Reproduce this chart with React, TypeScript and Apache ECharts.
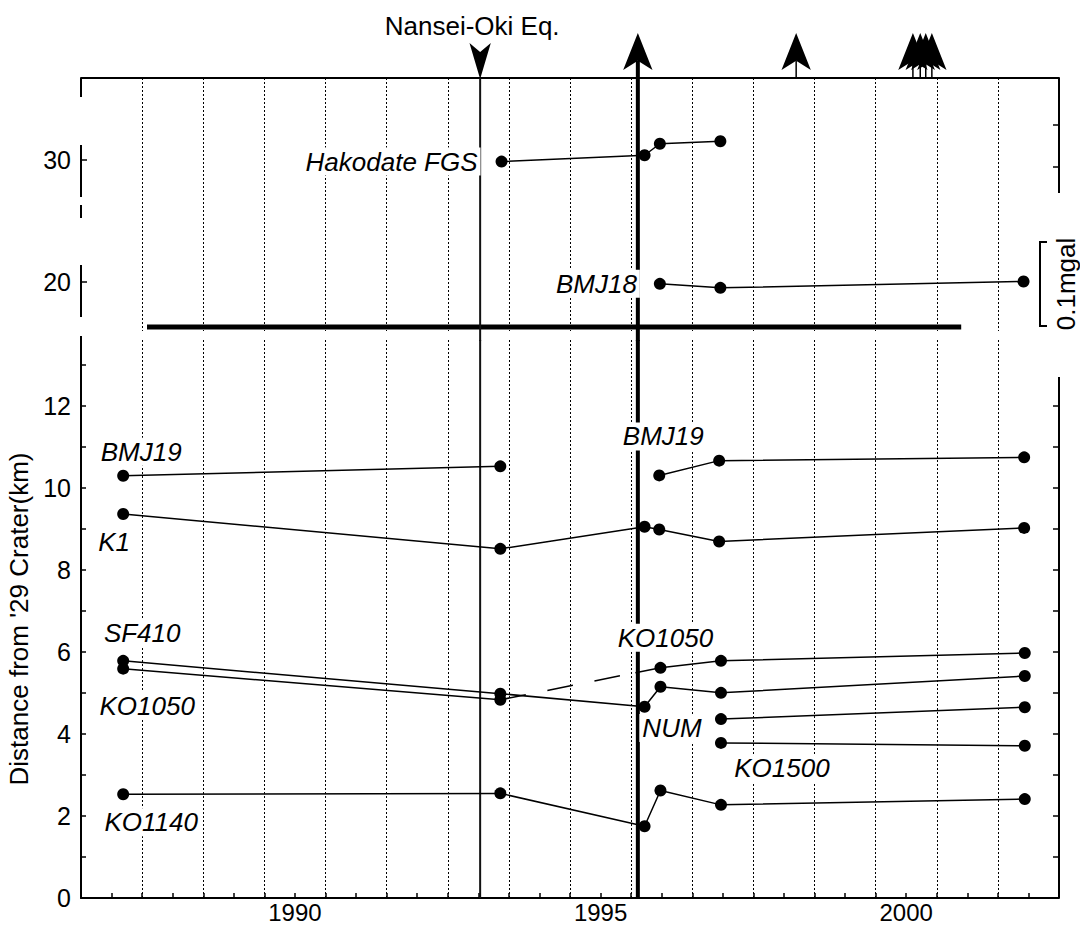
import React, { useEffect, useRef } from 'react';
import * as echarts from 'echarts';

// ---------- axes ----------
const X_MIN = 1986.5;
const X_MAX = 2002.5;
const X_LABELS = [1990, 1995, 2000];
const UPPER_MIN = 16;
const UPPER_MAX = 36.7;
const UPPER_LABELS = [20, 30];
const UPPER_RIGHT_TICKS = [29.4, 32.9];
const LOWER_MIN = 0;
const LOWER_MAX = 13.6;
const LOWER_TICKS = [0, 1, 2, 3, 4, 5, 6, 7, 8, 9, 10, 11, 12, 13];
const LOWER_LABELS = [0, 2, 4, 6, 8, 10, 12];
const LOWER_RIGHT_TICKS = [0, 1, 2, 3, 4, 5, 6, 7, 8, 9, 10, 11, 12];

// ---------- upper panel (gravity) ----------
const HAKODATE = [[1993.38, 29.86], [1995.72, 30.38], [1995.97, 31.32], [1996.96, 31.53]];
const BMJ18 = [[1995.97, 19.86], [1996.96, 19.53], [2001.92, 20.05]];
const PERIOD_BAR = [[1987.58, 16.33], [2000.9, 16.33]];

// ---------- lower panel (distance) ----------
const BMJ19_A = [[1987.19, 10.29], [1993.36, 10.52]];
const BMJ19_B = [[1995.96, 10.3], [1996.94, 10.66], [2001.93, 10.74]];
const K1 = [[1987.19, 9.36], [1993.36, 8.51], [1995.72, 9.05], [1995.96, 8.98], [1996.94, 8.69], [2001.93, 9.02]];
const SF410 = [[1987.19, 5.78], [1993.36, 4.98], [1995.72, 4.66], [1995.98, 5.15], [1996.97, 5.0], [2001.94, 5.41]];
const KO1050_A = [[1987.19, 5.59], [1993.36, 4.83]];
const KO1050_GAP_END = [1995.57, 5.49];
const KO1050_B = [[1995.98, 5.61], [1996.97, 5.78], [2001.94, 5.97]];
const NUM = [[1996.97, 4.36], [2001.94, 4.65]];
const KO1500 = [[1996.97, 3.78], [2001.94, 3.71]];
const KO1140 = [[1987.19, 2.53], [1993.36, 2.55], [1995.72, 1.75], [1995.98, 2.62], [1996.97, 2.27], [2001.94, 2.41]];

// ---------- events ----------
const NANSEI_OKI = 1993.03;
const MAIN_EVENT = 1995.61;
const SMALL_EVENTS = [1998.2, 2000.11, 2000.23, 2000.32, 2000.42];

// ---------- layout ----------
const W = 1080;
const H = 927;
const GL = 81;
const GR = 1059;
const UP_TOP = 78;
const UP_BOT = 331;
const LO_TOP = 340;
const LO_BOT = 898;
const FONT = "'Liberation Sans', Arial, Helvetica, sans-serif";

export default function App() {
  const ref = useRef<HTMLDivElement>(null);

  useEffect(() => {
    document.body.style.margin = '0';
    if (!ref.current) return;
    const chart = echarts.init(ref.current, undefined, { renderer: 'svg' });

    const upperPxPerUnit = (UP_BOT - UP_TOP) / (UPPER_MAX - UPPER_MIN);
    const bridge = UPPER_MIN - (LO_TOP - UP_BOT + 1) / upperPxPerUnit;
    // value lying `px` pixels above the top border of the upper panel
    const above = (px: number) => UPPER_MAX + px / upperPxPerUnit;

    const dotted = { show: true, lineStyle: { color: '#000', width: 1, type: [2, 2] as any }, showMinLine: false, showMaxLine: false };
    const axisText = { color: '#000', fontSize: 25, fontFamily: FONT };
    const lineCommon = {
      type: 'line',
      symbol: 'circle',
      symbolSize: 12,
      itemStyle: { color: '#000', opacity: 1 },
      lineStyle: { color: '#000', width: 1.5 },
      z: 4,
      silent: true,
    };
    const up = (data: any[], extra: any = {}) => ({ ...lineCommon, xAxisIndex: 0, yAxisIndex: 0, data, ...extra });
    const lo = (data: any[], extra: any = {}) => ({ ...lineCommon, xAxisIndex: 1, yAxisIndex: 2, data, ...extra });

    const lab = (pt: number[], text: string, offset: number[], align = 'center', italic = true, bg = true) => ({
      value: pt,
      label: {
        show: true,
        formatter: text,
        position: 'inside',
        offset,
        align,
        verticalAlign: 'middle',
        fontSize: 26,
        fontStyle: italic ? 'italic' : 'normal',
        fontFamily: FONT,
        color: '#000',
        opacity: 1,
        textBorderWidth: 0,
        backgroundColor: bg ? '#fff' : 'transparent',
        padding: [1, 3],
      },
    });
    const labelSeries = (xi: number, yi: number, data: any[]) => ({
      type: 'scatter',
      xAxisIndex: xi,
      yAxisIndex: yi,
      symbol: 'circle',
      symbolSize: 0,
      itemStyle: { color: '#000', opacity: 1 },
      clip: false,
      z: 6,
      silent: true,
      data,
    });
    const marker = (data: any[], symbol: string, size: number[], rotate = 0) => ({
      type: 'scatter', xAxisIndex: 0, yAxisIndex: 0, clip: false, silent: true, z: 3,
      data, symbol, symbolSize: size, symbolRotate: rotate, itemStyle: { color: '#000', opacity: 1 },
    });

    const option: any = {
      animation: false,
      backgroundColor: '#fff',
      grid: [
        { left: GL, right: W - GR, top: UP_TOP, height: UP_BOT - UP_TOP, containLabel: false, outerBoundsMode: 'none' },
        { left: GL, right: W - GR, top: LO_TOP, height: LO_BOT - LO_TOP, containLabel: false, outerBoundsMode: 'none' },
      ],
      xAxis: [
        {
          type: 'value', gridIndex: 0, position: 'top', min: X_MIN, max: X_MAX, interval: 1,
          axisLine: { show: true, lineStyle: { color: '#000', width: 2 } },
          axisTick: { show: false }, axisLabel: { show: false }, splitLine: dotted,
        },
        {
          type: 'value', gridIndex: 1, position: 'bottom', min: X_MIN, max: X_MAX, interval: 0.5,
          axisLine: { show: true, onZero: false, lineStyle: { color: '#000', width: 2 } },
          axisTick: { show: true, inside: true, length: 5, lineStyle: { color: '#000', width: 1.5 } },
          axisLabel: { show: true, customValues: X_LABELS, margin: 2, formatter: (v: number) => String(v), ...axisText, fontSize: 24 },
          splitLine: { show: false },
        },
        {
          type: 'value', gridIndex: 1, position: 'top', min: X_MIN, max: X_MAX, interval: 1,
          axisLine: { show: false }, axisTick: { show: false }, axisLabel: { show: false }, splitLine: dotted,
        },
      ],
      yAxis: [
        {
          type: 'value', gridIndex: 0, position: 'left', min: UPPER_MIN, max: UPPER_MAX,
          axisLine: { show: false },
          axisTick: { show: true, inside: true, length: 6, customValues: UPPER_LABELS, lineStyle: { color: '#000', width: 1.5 } },
          axisLabel: { show: true, customValues: UPPER_LABELS, margin: 10, formatter: (v: number) => String(v), ...axisText },
          splitLine: { show: false },
        },
        {
          type: 'value', gridIndex: 0, position: 'right', min: UPPER_MIN, max: UPPER_MAX,
          axisLine: { show: false },
          axisTick: { show: true, inside: true, length: 6, customValues: UPPER_RIGHT_TICKS, lineStyle: { color: '#000', width: 1.5 } },
          axisLabel: { show: false }, splitLine: { show: false },
        },
        {
          type: 'value', gridIndex: 1, position: 'left', min: LOWER_MIN, max: LOWER_MAX,
          name: "Distance from '29 Crater(km)", nameLocation: 'middle', nameRotate: 90, nameGap: 44,
          nameTextStyle: { color: '#000', fontSize: 26, fontFamily: FONT },
          axisLine: { show: true, onZero: false, lineStyle: { color: '#000', width: 2 } },
          axisTick: { show: true, inside: true, length: 5, customValues: LOWER_TICKS, lineStyle: { color: '#000', width: 1.5 } },
          axisLabel: { show: true, customValues: LOWER_LABELS, margin: 10, formatter: (v: number) => String(v), ...axisText },
          splitLine: { show: false },
        },
        {
          type: 'value', gridIndex: 1, position: 'right', min: LOWER_MIN, max: LOWER_MAX,
          axisLine: { show: false },
          axisTick: { show: true, inside: true, length: 6, customValues: LOWER_RIGHT_TICKS, lineStyle: { color: '#000', width: 1.5 } },
          axisLabel: { show: false }, splitLine: { show: false },
        },
      ],
      series: [
        // upper panel decorations
        { type: 'line', xAxisIndex: 0, yAxisIndex: 0, data: PERIOD_BAR, symbol: 'none', lineStyle: { color: '#000', width: 5 }, z: 2, silent: true },
        { type: 'line', xAxisIndex: 0, yAxisIndex: 0, data: [[NANSEI_OKI, UPPER_MAX], [NANSEI_OKI, bridge]], symbol: 'none', clip: false, lineStyle: { color: '#111', width: 2 }, z: 2, silent: true },
        { type: 'line', xAxisIndex: 0, yAxisIndex: 0, data: [[MAIN_EVENT, above(17)], [MAIN_EVENT, bridge]], symbol: 'none', clip: false, lineStyle: { color: '#000', width: 4 }, z: 2, silent: true },
        // the arrow symbol is drawn with its tip at the anchor point
        marker([[MAIN_EVENT, above(45)], ...SMALL_EVENTS.map((x) => [x, above(45)])], 'arrow', [22, 37]),
        marker(SMALL_EVENTS.map((x) => [x, above(8.5)]), 'rect', [1.5, 17]),
        marker([[NANSEI_OKI, above(-1)]], 'arrow', [16, 36], 180),
        up(HAKODATE),
        up(BMJ18),
        labelSeries(0, 0, [
          lab(HAKODATE[0], 'Hakodate FGS', [-21, 0], 'right'),
          lab(BMJ18[0], 'BMJ18', [-20, 0], 'right'),
          lab([NANSEI_OKI, UPPER_MAX], 'Nansei-Oki Eq.', [-8, -52], 'center', false, false),
        ]),
        // lower panel
        { type: 'line', xAxisIndex: 1, yAxisIndex: 2, data: [[NANSEI_OKI, LOWER_MIN], [NANSEI_OKI, LOWER_MAX]], symbol: 'none', lineStyle: { color: '#111', width: 2 }, z: 2, silent: true },
        { type: 'line', xAxisIndex: 1, yAxisIndex: 2, data: [[MAIN_EVENT, LOWER_MIN], [MAIN_EVENT, LOWER_MAX]], symbol: 'none', lineStyle: { color: '#000', width: 4 }, z: 2, silent: true },
        lo(BMJ19_A),
        lo(BMJ19_B),
        lo(K1),
        lo(SF410),
        lo(KO1050_A),
        lo([KO1050_A[KO1050_A.length - 1], KO1050_GAP_END], { symbol: 'none', lineStyle: { color: '#000', width: 1.5, type: [26, 22] } }),
        lo([{ value: KO1050_GAP_END, symbol: 'none' }, ...KO1050_B]),
        lo(NUM),
        lo(KO1500),
        lo(KO1140),
        labelSeries(1, 2, [
          lab(BMJ19_A[0], 'BMJ19', [18, -24]),
          lab(K1[0], 'K1', [-9, 28]),
          lab(SF410[0], 'SF410', [19, -28]),
          lab(KO1050_A[0], 'KO1050', [24, 37]),
          lab(KO1140[0], 'KO1140', [28, 28]),
          lab(BMJ19_B[0], 'BMJ19', [4, -39]),
          lab(KO1050_B[0], 'KO1050', [5, -30]),
          lab(NUM[0], 'NUM', [-49, 9]),
          lab(KO1500[0], 'KO1500', [61, 25]),
        ]),
      ],
      graphic: [
        // broken upper-left axis
        { type: 'line', shape: { x1: GL, y1: UP_TOP, x2: GL, y2: 97 }, style: { stroke: '#000', lineWidth: 2 } },
        { type: 'line', shape: { x1: GL, y1: 145, x2: GL, y2: 197 }, style: { stroke: '#000', lineWidth: 2 } },
        { type: 'line', shape: { x1: GL, y1: 205, x2: GL, y2: 218 }, style: { stroke: '#000', lineWidth: 2 } },
        { type: 'line', shape: { x1: GL, y1: 265, x2: GL, y2: 317 }, style: { stroke: '#000', lineWidth: 2 } },
        { type: 'line', shape: { x1: GL, y1: 336, x2: GL, y2: LO_TOP }, style: { stroke: '#000', lineWidth: 2 } },
        // right axis pieces
        { type: 'line', shape: { x1: GR, y1: UP_TOP, x2: GR, y2: 193 }, style: { stroke: '#000', lineWidth: 2 } },
        { type: 'line', shape: { x1: GR, y1: 377, x2: GR, y2: LO_BOT }, style: { stroke: '#000', lineWidth: 2 } },
        // 0.1 mgal scale bar
        {
          type: 'polyline',
          shape: { points: [[1047, 242], [1040, 242], [1040, 326], [1047, 326]] },
          style: { stroke: '#000', lineWidth: 2, fill: null },
        },
        {
          type: 'text', x: 1066, y: 284, rotation: Math.PI / 2,
          style: { text: '0.1mgal', fontSize: 26, fontFamily: FONT, fill: '#000', align: 'center', verticalAlign: 'middle', textAlign: 'center', textVerticalAlign: 'middle' },
        },
      ],
    };

    chart.setOption(option);
    return () => chart.dispose();
  }, []);

  return <div ref={ref} style={{ width: W, height: H }} />;
}
